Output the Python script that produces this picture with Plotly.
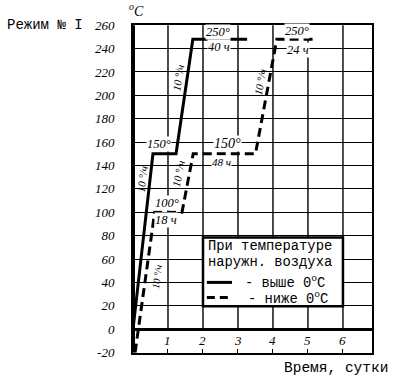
import plotly.graph_objects as go

# ---- data ----
solid_t = [0.0, 0.57, 1.23, 1.71, 3.26]          # days
solid_T = [0, 150, 150, 248, 248]                 # °C
dashed_t = [0.06, 0.62, 1.40, 1.72, 3.50, 4.11, 5.15]
dashed_T = [-20, 100, 100, 150, 150, 248, 248]

y_ticks = [-20, 0, 20, 40, 60, 80, 100, 120, 140, 160, 180, 200, 220, 240, 260]
x_ticks = [1, 2, 3, 4, 5, 6]
x_grid = [1, 2, 3, 4, 5, 6]

X_MAX = 6.83
mono = "Liberation Mono"
hand = "Liberation Serif"

fig = go.Figure()
fig.add_trace(go.Scatter(x=solid_t, y=solid_T, mode="lines",
                         line=dict(color="black", width=3), showlegend=False))
fig.add_trace(go.Scatter(x=dashed_t, y=dashed_T, mode="lines",
                         line=dict(color="black", width=3, dash="9px,5px"), showlegend=False))

shapes = []
for gx in x_grid:
    shapes.append(dict(type="line", xref="x", yref="y", x0=gx, x1=gx, y0=0, y1=260,
                       line=dict(color="black", width=1.4), layer="below"))
# thick left axis
shapes.append(dict(type="line", xref="x", yref="y", x0=0, x1=0, y0=-20, y1=260,
                   line=dict(color="black", width=4)))
# legend box
shapes.append(dict(type="rect", xref="x", yref="y", x0=2.0, x1=6.0, y0=19.6, y1=78.4,
                   fillcolor="white", line=dict(color="black", width=2.5), layer="above"))
shapes.append(dict(type="line", xref="x", yref="y", x0=2.11, x1=2.83, y0=40, y1=40,
                   line=dict(color="black", width=3), layer="above"))
shapes.append(dict(type="line", xref="x", yref="y", x0=2.11, x1=2.83, y0=27, y1=27,
                   line=dict(color="black", width=3, dash="8px,5px"), layer="above"))

ann = []
def label(x, y, text, size=12.5, angle=0, bg=True, family=hand, style="italic", xanchor="center"):
    ann.append(dict(x=x, y=y, xref="x", yref="y", text=text, showarrow=False,
                    textangle=angle, xanchor=xanchor, yanchor="middle",
                    bgcolor="white" if bg else None, borderpad=0,
                    font=dict(family=family, size=size, color="black", style=style)))

# curve annotations
label(0.74, 158, "150°")
label(0.25, 128, "10 °/ч", size=11, angle=-83, bg=False)
label(1.29, 215, "10 °/ч", size=11, angle=-81, bg=False)
label(2.43, 254, "250°")
label(2.47, 241, "40 ч")
label(3.62, 211, "10 °/ч", size=11, angle=-79, bg=False)
label(4.69, 255, "250°")
label(4.71, 239, "24 ч")
label(2.69, 159, "150°", size=14)
label(2.54, 143, "48 ч", size=11)
label(1.29, 133, "10 °/ч", size=11, angle=-79, bg=False)
label(0.97, 108, "100°")
label(0.94, 93, "18 ч")
label(0.69, 45, "10 °/ч", size=10, angle=-83, bg=False)

# day numbers inside the bottom strip
for v in x_ticks:
    label(v, -9.5, str(v), size=13, bg=False)

# legend text
LS = 13.8
label(2.11, 70.8, "При температуре", size=LS, bg=False, family=mono, style="normal", xanchor="left")
label(2.11, 57, "наружн. воздуха", size=LS, bg=False, family=mono, style="normal", xanchor="left")
label(3.16, 40, "- выше 0<sup>o</sup>C", size=LS, bg=False, family=mono, style="normal", xanchor="left")
label(3.25, 27, "- ниже 0<sup>o</sup>C", size=LS, bg=False, family=mono, style="normal", xanchor="left")

# outer texts (paper coordinates)
ann.append(dict(x=-0.025, y=1.045, xref="paper", yref="paper", text="<sup>o</sup>C", showarrow=False,
                xanchor="left", yanchor="middle",
                font=dict(family=hand, size=14, color="black", style="italic")))
ann.append(dict(x=-0.368, y=1.0, xref="paper", yref="paper", text="Режим № I", showarrow=False,
                xanchor="center", yanchor="middle",
                font=dict(family=mono, size=14, color="black")))
ann.append(dict(x=0.849, y=-0.046, xref="paper", yref="paper", text="Время, сутки", showarrow=False,
                xanchor="center", yanchor="middle",
                font=dict(family=mono, size=14.5, color="black")))

fig.update_layout(
    width=401, height=381,
    margin=dict(l=133, r=29, t=25, b=28),
    paper_bgcolor="white", plot_bgcolor="white",
    shapes=shapes, annotations=ann,
    xaxis=dict(range=[0, X_MAX], tickvals=x_ticks,
               ticks="inside", ticklen=4, tickcolor="black", tickwidth=1.2,
               showticklabels=False,
               showgrid=False, zeroline=False,
               showline=True, linecolor="black", linewidth=2, mirror=True),
    yaxis=dict(range=[-20.4, 260.2], tickvals=y_ticks, ticktext=[str(v) for v in y_ticks],
               ticks="", ticklabelstandoff=14,
               tickfont=dict(family=hand, size=13, color="black", style="italic"),
               showgrid=True, gridcolor="black", gridwidth=1.4,
               zeroline=True, zerolinecolor="black", zerolinewidth=2.6,
               showline=True, linecolor="black", linewidth=2, mirror=True),
)

fig.write_html("out.html")
